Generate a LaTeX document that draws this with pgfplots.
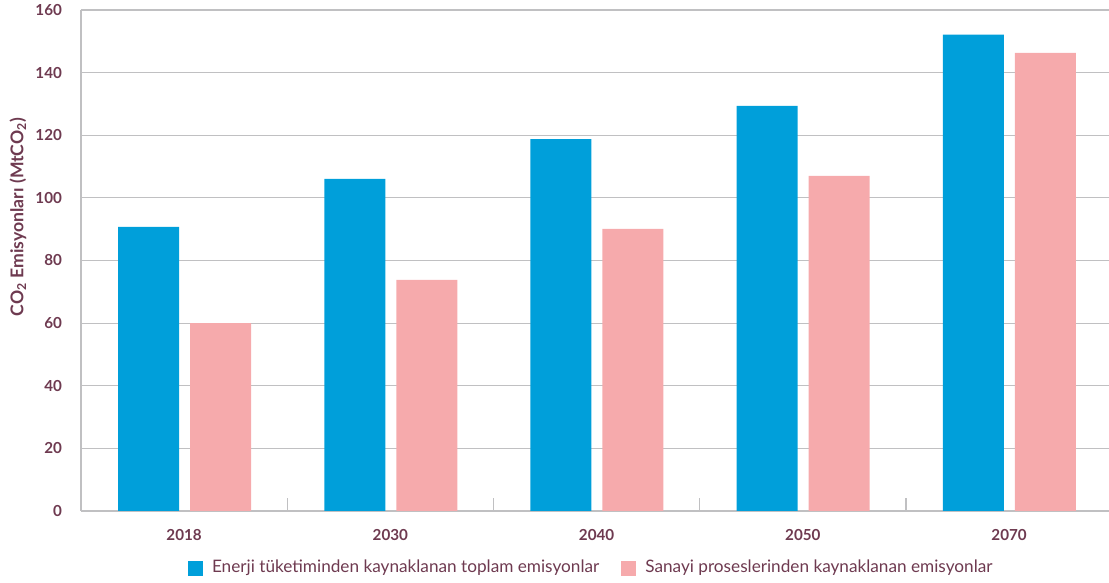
\documentclass[border=0pt]{standalone}
\usepackage{fontspec}
\setmainfont{Lato}
\usepackage{pgfplots}
\pgfplotsset{compat=1.18}
\definecolor{eblue}{HTML}{009FDA}
\definecolor{spink}{HTML}{F6AAAC}
\definecolor{txt}{HTML}{6E3A50}
\definecolor{gridc}{HTML}{C0C0C2}
\begin{document}
\begin{tikzpicture}
\begin{axis}[name=ax, scale only axis, width=515.6pt, height=250.5pt,
  xmin=-0.5, xmax=4.5, ymin=0, ymax=160,
  ybar,
  xtick={0,1,2,3,4}, xticklabels={2018,2030,2040,2050,2070},
  ytick={0,20,...,160},
  ymajorgrids, grid style={gridc, line width=0.6pt},
  axis x line*=bottom, axis y line*=left,
  axis line style={gridc, line width=0.8pt},
  major tick length=0pt,
  extra x ticks={0.5,1.5,2.5,3.5}, extra x tick labels={},
  extra x tick style={major tick length=6.5pt, tick align=inside, tick style={gridc, line width=0.6pt}, xmajorgrids=false},
  ticklabel style={font=\bfseries\fontsize{7.6}{9}\selectfont, text=txt},
  /pgf/number format/assume math mode=true,
  yticklabel style={xshift=-6pt},
  xticklabel style={yshift=-5.5pt},
  every axis y label/.style={at={(axis description cs:0,0.587)}, xshift=-31.5pt, rotate=90, anchor=center, font=\bfseries\fontsize{8.8}{10}\selectfont, text=txt},
  ylabel={CO\textsubscript{2} Emisyonları (MtCO\textsubscript{2})},
  legend style={at={(axis description cs:0.1038,-0.1138)}, anchor=west, legend columns=2, draw=none, fill=none, inner sep=0pt, outer sep=0pt, font=\fontsize{8.6}{10}\selectfont, text=txt, /tikz/every even column/.append style={column sep=9pt}},
  legend cell align=left,
  legend image code/.code={\fill[#1] (0pt,-3.75pt) rectangle (7.5pt,3.75pt); \path (10pt,0pt);},
]
\addplot[fill=eblue, draw=none, bar width=30.5pt, bar shift=-17.8pt] coordinates {(0,90.7) (1,106.1) (2,118.8) (3,129.4) (4,152.1)};
\addlegendentry{Enerji tüketiminden kaynaklanan toplam emisyonlar}
\addplot[fill=spink, draw=none, bar width=30.5pt, bar shift=18.2pt] coordinates {(0,60.0) (1,73.8) (2,90.1) (3,107.0) (4,146.3)};
\addlegendentry{Sanayi proseslerinden kaynaklanan emisyonlar}
\end{axis}
\pgfresetboundingbox
\path[use as bounding box] ([xshift=-40.5pt,yshift=-36pt]ax.south west) rectangle ([xshift=514pt,yshift=255.5pt]ax.south west);
\end{tikzpicture}
\end{document}
